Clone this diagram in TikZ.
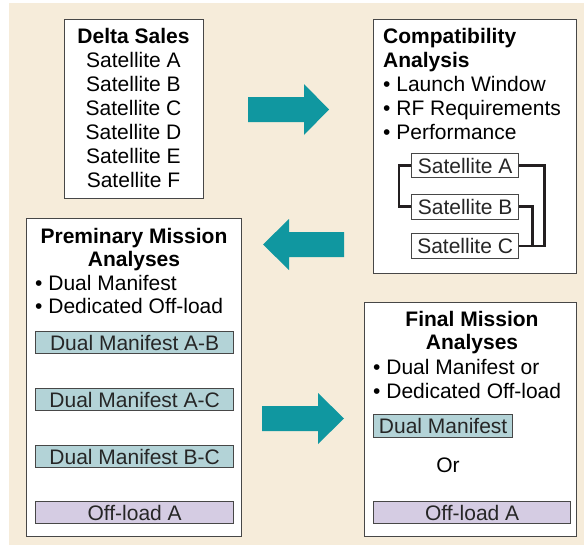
\documentclass[tikz,border=0pt]{standalone}
\usepackage{fontspec}
\setmainfont{Liberation Sans}
\definecolor{bgbeige}{HTML}{F6ECDA}
\definecolor{arrowteal}{HTML}{1097A0}
\definecolor{dmfill}{HTML}{B3D3D7}
\definecolor{offill}{HTML}{D5CCE3}
\definecolor{edgegrey}{HTML}{474747}
\definecolor{connblack}{HTML}{231F20}
\begin{document}
\begin{tikzpicture}[x=1pt,y=-1pt,
  bigbox/.style={draw=edgegrey, line width=1.3pt, fill=white, inner sep=0pt, anchor=north west},
  innerbox/.style={draw=edgegrey, line width=1.3pt, inner sep=0pt, anchor=north west,
    font=\fontsize{21}{24}\selectfont, text=black!85},
  txt/.style={inner sep=0pt, font=\fontsize{21}{24}\selectfont},
  conn/.style={draw=connblack, line width=2.6pt},
  blockarrow/.style={fill=arrowteal}]
\useasboundingbox (0,0) rectangle (584,546);
\fill[white] (0,0) rectangle (584,546);
\fill[bgbeige] (9,3) rectangle (584,545);

% Delta Sales
\node[bigbox, minimum width=139pt, minimum height=179pt] (ds) at (64,19) {};
\node[txt, anchor=base] (ds0) at (133.5,43) {\bfseries Delta Sales};
\node[txt, anchor=base] (ds1) at (133.5,67) {Satellite A};
\node[txt, anchor=base] (ds2) at (133.5,91) {Satellite B};
\node[txt, anchor=base] (ds3) at (133.5,115) {Satellite C};
\node[txt, anchor=base] (ds4) at (133.5,139) {Satellite D};
\node[txt, anchor=base] (ds5) at (133.5,163) {Satellite E};
\node[txt, anchor=base] (ds6) at (133.5,187) {Satellite F};

% Compatibility Analysis
\node[bigbox, minimum width=203pt, minimum height=254pt] (ca) at (373,19) {};
\node[txt, anchor=base west] (ca0) at (383,43) {\bfseries Compatibility};
\node[txt, anchor=base west] (ca1) at (383,67) {\bfseries Analysis};
\node[txt, anchor=base west] (ca2) at (383,91) {• Launch Window};
\node[txt, anchor=base west] (ca3) at (383,115) {• RF Requirements};
\node[txt, anchor=base west] (ca4) at (383,139) {• Performance};
\node[innerbox, fill=white, minimum width=107pt, minimum height=24pt] (sa) at (411,153) {Satellite A};
\node[innerbox, fill=white, minimum width=107pt, minimum height=25pt] (sb) at (411,193.5) {Satellite B};
\node[innerbox, fill=white, minimum width=107pt, minimum height=25pt] (sc) at (411,233) {Satellite C};
\draw[conn] (sa.west) -- ++(-12,0) |- (sb.west);
\draw[conn] (sa.east) -- ++(25,0) |- (sc.east);
\draw[conn] (sb.east) -- ++(13,0) |- (sc.east);

% Preliminary Mission Analyses
\node[bigbox, minimum width=215pt, minimum height=318pt] (pm) at (26,218) {};
\node[txt, anchor=base] (pm0) at (134,243) {\bfseries Preminary Mission};
\node[txt, anchor=base] (pm1) at (134,266.5) {\bfseries Analyses};
\node[txt, anchor=base west] (pm2) at (35,290) {• Dual Manifest};
\node[txt, anchor=base west] (pm3) at (35,313.5) {• Dedicated Off-load};
\node[innerbox, fill=dmfill, minimum width=198pt, minimum height=22pt] (dab) at (35,331) {Dual Manifest A-B};
\node[innerbox, fill=dmfill, minimum width=198pt, minimum height=22pt] (dac) at (35,388) {Dual Manifest A-C};
\node[innerbox, fill=dmfill, minimum width=198pt, minimum height=22pt] (dbc) at (35,445) {Dual Manifest B-C};
\node[innerbox, fill=offill, minimum width=198pt, minimum height=22pt] (ola) at (35,501) {Off-load A};

% Final Mission Analyses
\node[bigbox, minimum width=212pt, minimum height=234pt] (fm) at (364,302) {};
\node[txt, anchor=base] (fm0) at (472,326.5) {\bfseries Final Mission};
\node[txt, anchor=base] (fm1) at (472,349.5) {\bfseries Analyses};
\node[txt, anchor=base west] (fm2) at (373,374.5) {• Dual Manifest or};
\node[txt, anchor=base west] (fm3) at (373,398.5) {• Dedicated Off-load};
\node[innerbox, fill=dmfill, minimum width=139pt, minimum height=23pt] (fdm) at (373,414) {Dual Manifest};
\node[txt, anchor=base] (for) at (448,472.5) {Or};
\node[innerbox, fill=offill, minimum width=197pt, minimum height=22pt] (fola) at (373,501) {Off-load A};

% Block arrows
\fill[blockarrow] (248,97) -- (304,97) -- (304,84) -- (329,109.5) -- (304,135) -- (304,122) -- (248,122) -- cycle;
\fill[blockarrow] (344,232) -- (289,232) -- (289,219) -- (263,244.5) -- (289,270) -- (289,257) -- (344,257) -- cycle;
\fill[blockarrow] (262,406) -- (318,406) -- (318,393) -- (344,418.5) -- (318,444) -- (318,431) -- (262,431) -- cycle;
\end{tikzpicture}
\end{document}
